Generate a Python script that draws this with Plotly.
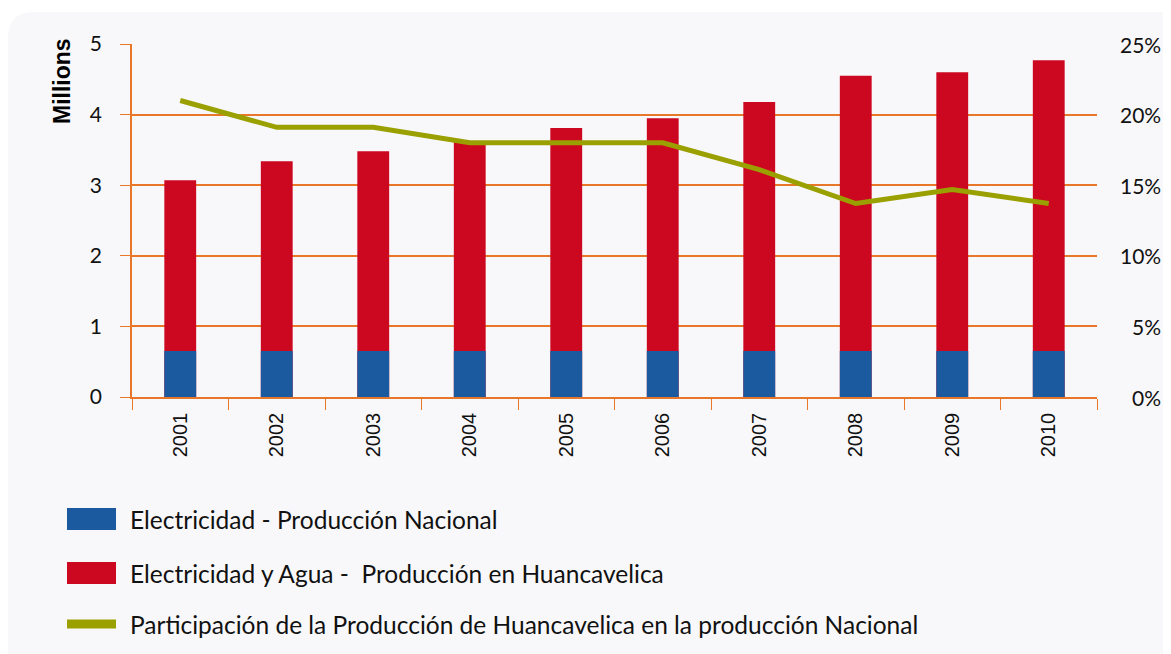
import plotly.graph_objects as go

years = ["2001", "2002", "2003", "2004", "2005", "2006", "2007", "2008", "2009", "2010"]
nacional = [0.65, 0.65, 0.65, 0.65, 0.65, 0.65, 0.65, 0.65, 0.65, 0.65]
huancavelica = [3.07, 3.34, 3.48, 3.62, 3.81, 3.95, 4.18, 4.55, 4.60, 4.77]
participacion = [0.210, 0.191, 0.191, 0.180, 0.180, 0.180, 0.161, 0.137, 0.147, 0.137]

left_ticks = [0, 1, 2, 3, 4, 5]
right_ticks = [0, 0.05, 0.10, 0.15, 0.20, 0.25]
right_labels = ["0%", "5%", "10%", "15%", "20%", "25%"]

names = [
    "Electricidad - Producción Nacional",
    "Electricidad y Agua -  Producción en Huancavelica",
    "Participación de la Producción de Huancavelica en la producción Nacional",
]
BLUE = "#1C5AA0"
RED = "#CC0820"
OLIVE = "#9AA000"
ORANGE = "#E8772A"
CARD = "#F8F8FA"
TXT = "#111111"

fig = go.Figure()
fig.add_trace(go.Bar(x=years, y=huancavelica, name=names[1], marker_color=RED,
                     marker_line_width=0, yaxis="y"))
fig.add_trace(go.Bar(x=years, y=nacional, name=names[0], marker_color=BLUE,
                     marker_line_width=0, yaxis="y"))
fig.add_trace(go.Scatter(x=years, y=participacion, name=names[2], mode="lines",
                         line=dict(color=OLIVE, width=5), yaxis="y2"))

# page has an 8px body margin; figure pixel = page pixel - 8
W, H = 1163, 646
L, R, T, B = 124, 1089, 36, 389


def px_x(px):
    return (px - L) / (R - L)


def px_y(py):
    return (B - py) / (B - T)


# background card with rounded top-left corner
rad = 26
cx0, cy0 = 0, 4
shapes = [dict(type="path", xref="paper", yref="paper", layer="below",
               path=(f"M {px_x(cx0 + rad)} {px_y(cy0)} L {px_x(W + 20)} {px_y(cy0)} "
                     f"L {px_x(W + 20)} {px_y(H + 20)} L {px_x(cx0)} {px_y(H + 20)} "
                     f"L {px_x(cx0)} {px_y(cy0 + rad)} "
                     f"Q {px_x(cx0)} {px_y(cy0)} {px_x(cx0 + rad)} {px_y(cy0)} Z"),
               fillcolor=CARD, line_width=0)]

annotations = []
leg = [(511, BLUE, 22, names[0]), (565, RED, 22, names[1]), (616, OLIVE, 9, names[2])]
for cy, col, h, txt in leg:
    shapes.append(dict(type="rect", xref="paper", yref="paper",
                       x0=px_x(59), x1=px_x(108), y0=px_y(cy + h / 2), y1=px_y(cy - h / 2),
                       fillcolor=col, line_width=0))
    annotations.append(dict(xref="paper", yref="paper", x=px_x(120), y=px_y(cy),
                            xanchor="left", yanchor="middle", text=txt, showarrow=False,
                            font=dict(family="Lato", size=24.5, color=TXT)))

annotations.append(dict(xref="paper", yref="paper", x=px_x(54), y=px_y(73),
                        text="<b>Millions</b>", textangle=-90, showarrow=False,
                        xanchor="center", yanchor="middle",
                        font=dict(family="Liberation Sans", size=23, color="#000000")))

for v, lab in zip(right_ticks, right_labels):
    annotations.append(dict(xref="paper", yref="y2", x=px_x(1155), y=v, text=lab,
                            xanchor="right", yanchor="middle", showarrow=False,
                            font=dict(family="Lato", size=21, color=TXT)))

fig.update_layout(
    width=W, height=H,
    margin=dict(l=L, r=W - R, t=T, b=H - B, autoexpand=False),
    paper_bgcolor="white", plot_bgcolor=CARD,
    barmode="overlay", bargap=0.67,
    showlegend=False,
    shapes=shapes, annotations=annotations,
    xaxis=dict(type="category", tickson="boundaries", ticks="outside", ticklen=11,
               tickcolor=ORANGE, showline=True, linecolor=ORANGE, linewidth=1.5,
               tickangle=-90, showgrid=False, ticklabelstandoff=6,
               tickfont=dict(family="Liberation Sans", size=20, color=TXT)),
    yaxis=dict(range=[0, 5], tickvals=left_ticks, ticks="outside", ticklen=10,
               tickcolor=ORANGE, showline=True, linecolor=ORANGE, linewidth=1.5,
               gridcolor=ORANGE, gridwidth=1.5, zeroline=False, ticklabelstandoff=14,
               tickfont=dict(family="Lato", size=21, color=TXT)),
    yaxis2=dict(range=[0, 0.25], tickvals=right_ticks, showticklabels=False,
                overlaying="y", side="right", showgrid=False, zeroline=False,
                showline=False, ticks=""),
)

fig.write_html("out.html")
